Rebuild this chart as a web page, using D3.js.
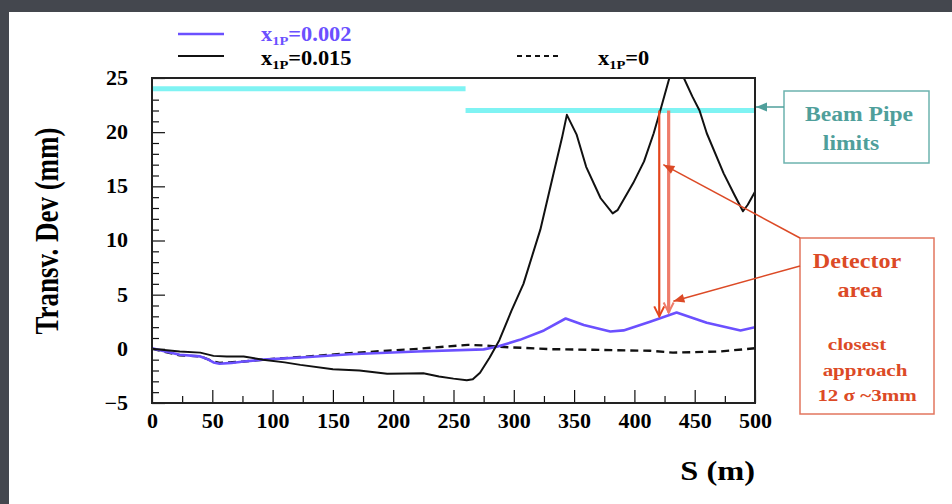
<!DOCTYPE html>
<html>
<head>
<meta charset="utf-8">
<script src="https://cdn.jsdelivr.net/npm/d3@7"></script>
<style>
  body { margin: 0; background: #44474e; }
  svg { display: block; }
</style>
</head>
<body>
<svg id="chart" width="952" height="504"></svg>
<script>
// orbit deviation vs distance
const sX0015 = [0, 10, 23, 40, 51, 62, 76, 92, 110, 123, 150, 172, 195, 212, 225, 238, 250, 261, 266, 272, 280, 288, 298, 308, 322, 333, 340, 344, 352, 360, 372, 382, 386, 399, 408, 416, 422, 429, 434, 441, 448, 454, 460, 474, 483, 490, 494, 500];
const devX0015 = [0, -0.1, -0.25, -0.35, -0.65, -0.7, -0.7, -1.0, -1.25, -1.48, -1.88, -2.0, -2.3, -2.28, -2.25, -2.55, -2.75, -2.9, -2.8, -2.2, -0.8, 0.8, 3.5, 6.0, 11, 16.2, 19.5, 21.6, 19.8, 16.8, 13.9, 12.5, 12.8, 15.3, 17.3, 19.9, 22.2, 25, 26.5, 25, 23.3, 22, 19.9, 16.2, 14.2, 12.7, 13.3, 14.5];

const sX0002 = [0, 23, 40, 46, 51, 56, 66, 76, 92, 130, 164, 220, 275, 286, 305, 325, 343, 358, 380, 391, 413, 435, 460, 488, 500];
const devX0002 = [0.05, -0.55, -0.7, -0.95, -1.26, -1.38, -1.3, -1.17, -1.0, -0.75, -0.5, -0.25, -0.05, 0.2, 0.83, 1.7, 2.8, 2.2, 1.6, 1.7, 2.5, 3.35, 2.4, 1.7, 2.0];

const sX0 = [0, 23, 40, 51, 56, 76, 92, 130, 164, 220, 262, 278, 286, 330, 372, 413, 432, 470, 500];
const devX0 = [0, -0.6, -0.7, -1.17, -1.3, -1.17, -1.0, -0.7, -0.4, 0.0, 0.37, 0.3, 0.2, -0.03, -0.1, -0.18, -0.35, -0.25, 0.05];

// beam pipe limits: [from, to] in S, value in mm
const pipeFrom = [0, 260];
const pipeTo = [260, 500];
const pipeLimit = [24.0, 22.0];

// detector arrows (S position, top, bottom)
const detectorS = [420.6, 428.4];
const detectorTop = [22, 22];
const detectorBottom = [3.0, 3.35];

const xTicks = [0, 50, 100, 150, 200, 250, 300, 350, 400, 450, 500];
const xMinor = [25, 75, 125, 175, 225, 275, 325, 375, 425, 475];
const yTicks = [-5, 0, 5, 10, 15, 20, 25];
const yMinor = [-4, -3, -2, -1, 1, 2, 3, 4, 6, 7, 8, 9, 11, 12, 13, 14, 16, 17, 18, 19, 21, 22, 23, 24];

const serif = '"Liberation Serif", "Times New Roman", serif';
const blue = '#6b50ff';
const red = '#dc4a26';
const teal = '#4f9f9b';

const svg = d3.select('#chart');

// slide background + white page
svg.append('rect').attr('width', 952).attr('height', 504).attr('fill', '#44474e');
svg.append('rect').attr('x', 9).attr('y', 12).attr('width', 943).attr('height', 492).attr('fill', '#fff');

const x = d3.scaleLinear().domain([0, 500]).range([152, 755]);
const y = d3.scaleLinear().domain([-5, 25]).range([403, 78]);

const defs = svg.append('defs');
defs.append('clipPath').attr('id', 'plot-clip')
    .append('rect')
    .attr('x', x(0)).attr('y', y(25))
    .attr('width', x(500) - x(0)).attr('height', y(-5) - y(25));

function arrowMarker(id, color, open) {
    const m = defs.append('marker')
        .attr('id', id)
        .attr('markerUnits', 'userSpaceOnUse')
        .attr('viewBox', '-12 -7 14 14')
        .attr('refX', 0).attr('refY', 0)
        .attr('markerWidth', 14).attr('markerHeight', 14)
        .attr('orient', 'auto');
    if (open) {
        m.append('path').attr('d', 'M-10,-5 L0,0 L-10,5')
            .attr('fill', 'none').attr('stroke', color).attr('stroke-width', 2);
    } else {
        m.append('path').attr('d', 'M-11,-4.5 L0,0 L-11,4.5 Z').attr('fill', color);
    }
}
arrowMarker('head-red', red, false);
arrowMarker('head-teal', teal, false);
arrowMarker('chev-red', '#e4451c', true);
arrowMarker('chev-pink', '#ee7c6a', true);

// stretched text helper (the original figure is wider than tall)
function label(g, px, py, str, opt) {
    return g.append('text')
        .attr('transform', `translate(${px},${py}) scale(${opt.sx || 1.25},1)${opt.rot ? ' rotate(' + opt.rot + ')' : ''}`)
        .attr('text-anchor', opt.anchor || 'start')
        .attr('font-family', serif)
        .attr('font-weight', 'bold')
        .attr('font-size', opt.size)
        .attr('fill', opt.color || '#000')
        .text(str);
}

// axes, ticks pointing inside
function styleAxis(g) {
    g.select('.domain').remove();
    g.selectAll('line').attr('stroke', '#111').attr('stroke-width', 1.2);
    g.attr('font-family', serif).attr('font-size', 20).attr('font-weight', 'bold');
    g.selectAll('text').attr('fill', '#000');
}

svg.append('g')
    .attr('transform', `translate(0,${y(-5)})`)
    .call(d3.axisBottom(x).tickValues(xMinor).tickSize(-7).tickFormat(''))
    .call(styleAxis);
svg.append('g')
    .attr('transform', `translate(0,${y(-5)})`)
    .call(d3.axisBottom(x).tickValues(xTicks).tickSize(-13).tickPadding(11).tickFormat(d3.format('d')))
    .call(styleAxis)
    .selectAll('text').attr('transform', 'scale(1.1,1)');

svg.append('g')
    .attr('transform', `translate(${x(0)},0)`)
    .call(d3.axisLeft(y).tickValues(yMinor).tickSize(-7).tickFormat(''))
    .call(styleAxis);
svg.append('g')
    .attr('transform', `translate(${x(0)},0)`)
    .call(d3.axisLeft(y).tickValues(yTicks).tickSize(-13).tickPadding(21.8).tickFormat(d3.format('d')))
    .call(styleAxis)
    .selectAll('text').attr('transform', 'scale(1.1,1)');

// curves
const plot = svg.append('g').attr('clip-path', 'url(#plot-clip)');

// beam pipe limits
plot.selectAll('.pipe')
    .data(pipeLimit)
    .enter().append('line')
    .attr('class', 'pipe')
    .attr('x1', (d, i) => x(pipeFrom[i]))
    .attr('x2', (d, i) => x(pipeTo[i]))
    .attr('y1', d => y(d))
    .attr('y2', d => y(d))
    .attr('stroke', '#7ff3f3')
    .attr('stroke-width', 5);

const line = d3.line()
    .x(d => x(d[0]))
    .y(d => y(d[1]));

const series = [
    { s: sX0, v: devX0, color: '#111', width: 2.4, dash: '8,5' },
    { s: sX0002, v: devX0002, color: blue, width: 2.6, dash: null },
    { s: sX0015, v: devX0015, color: '#111', width: 2, dash: null }
];
series.forEach(d => {
    plot.append('path')
        .datum(d.s.map((sv, i) => [sv, d.v[i]]))
        .attr('d', line)
        .attr('fill', 'none')
        .attr('stroke', d.color)
        .attr('stroke-width', d.width)
        .attr('stroke-linejoin', 'round')
        .attr('stroke-dasharray', d.dash);
});

// frame
svg.append('rect')
    .attr('x', x(0)).attr('y', y(25))
    .attr('width', x(500) - x(0)).attr('height', y(-5) - y(25))
    .attr('fill', 'none')
    .attr('stroke', '#222')
    .attr('stroke-width', 2);

// axis titles
label(svg, 58, 231, 'Transv. Dev (mm)', { size: 27, sx: 1.28, rot: -90, anchor: 'middle' });
label(svg, 755, 480, 'S (m)', { size: 27, sx: 1.2, anchor: 'end' });

// legend
function legendLabel(px, py, value, color) {
    const t = svg.append('text')
        .attr('transform', `translate(${px},${py}) scale(1.12,1)`)
        .attr('font-family', serif)
        .attr('font-weight', 'bold')
        .attr('font-size', 20)
        .attr('fill', color);
    t.append('tspan').text('x');
    t.append('tspan').attr('font-size', 13).attr('dy', 4).text('1P');
    t.append('tspan').attr('dy', -4).text('=' + value);
}
svg.append('line').attr('x1', 178).attr('x2', 224).attr('y1', 34).attr('y2', 34)
    .attr('stroke', blue).attr('stroke-width', 2.5);
legendLabel(261, 41, '0.002', blue);
svg.append('line').attr('x1', 178).attr('x2', 224).attr('y1', 56).attr('y2', 56)
    .attr('stroke', '#111').attr('stroke-width', 2.2);
legendLabel(261, 65, '0.015', '#000');
svg.append('line').attr('x1', 517).attr('x2', 562).attr('y1', 56).attr('y2', 56)
    .attr('stroke', '#111').attr('stroke-width', 2).attr('stroke-dasharray', '5,4');
legendLabel(598, 65, '0', '#000');

// detector arrows from pipe limit down to the orbit
const det = svg.append('g');
det.selectAll('line')
    .data(detectorS)
    .enter().append('line')
    .attr('x1', d => x(d)).attr('x2', d => x(d))
    .attr('y1', (d, i) => y(detectorTop[i]))
    .attr('y2', (d, i) => y(detectorBottom[i]))
    .attr('stroke', (d, i) => i === 0 ? '#e4451c' : '#ee7c6a')
    .attr('stroke-width', (d, i) => i === 0 ? 2.2 : 3.2)
    .attr('marker-end', (d, i) => i === 0 ? 'url(#chev-red)' : 'url(#chev-pink)');

// beam pipe box
svg.append('rect').attr('x', 784).attr('y', 91).attr('width', 145).attr('height', 72)
    .attr('fill', 'none').attr('stroke', '#6cb3ae').attr('stroke-width', 1.5);
label(svg, 859, 121, 'Beam Pipe', { size: 20, sx: 1.18, anchor: 'middle', color: teal });
label(svg, 851, 150, 'limits', { size: 20, sx: 1.18, anchor: 'middle', color: teal });
svg.append('line').attr('x1', 784).attr('y1', 107).attr('x2', x(500) + 1).attr('y2', 107)
    .attr('stroke', teal).attr('stroke-width', 1.5).attr('marker-end', 'url(#head-teal)');

// detector box
svg.append('rect').attr('x', 800).attr('y', 238).attr('width', 134).attr('height', 176)
    .attr('fill', 'none').attr('stroke', '#e2765e').attr('stroke-width', 1.5);
label(svg, 857, 268, 'Detector', { size: 21, sx: 1.15, anchor: 'middle', color: red });
label(svg, 860, 297, 'area', { size: 21, sx: 1.15, anchor: 'middle', color: red });
label(svg, 857, 350, 'closest', { size: 17.5, sx: 1.2, anchor: 'middle', color: red });
label(svg, 865, 376, 'approach', { size: 17.5, sx: 1.2, anchor: 'middle', color: red });
label(svg, 867, 401, '12 σ ~3mm', { size: 17.5, sx: 1.2, anchor: 'middle', color: red });

svg.append('line').attr('x1', 800).attr('y1', 238).attr('x2', x(424)).attr('y2', y(17.0))
    .attr('stroke', red).attr('stroke-width', 1.5).attr('marker-end', 'url(#head-red)');
svg.append('line').attr('x1', 800).attr('y1', 266).attr('x2', x(432.3)).attr('y2', y(4.4))
    .attr('stroke', red).attr('stroke-width', 1.5).attr('marker-end', 'url(#head-red)');
</script>
</body>
</html>
